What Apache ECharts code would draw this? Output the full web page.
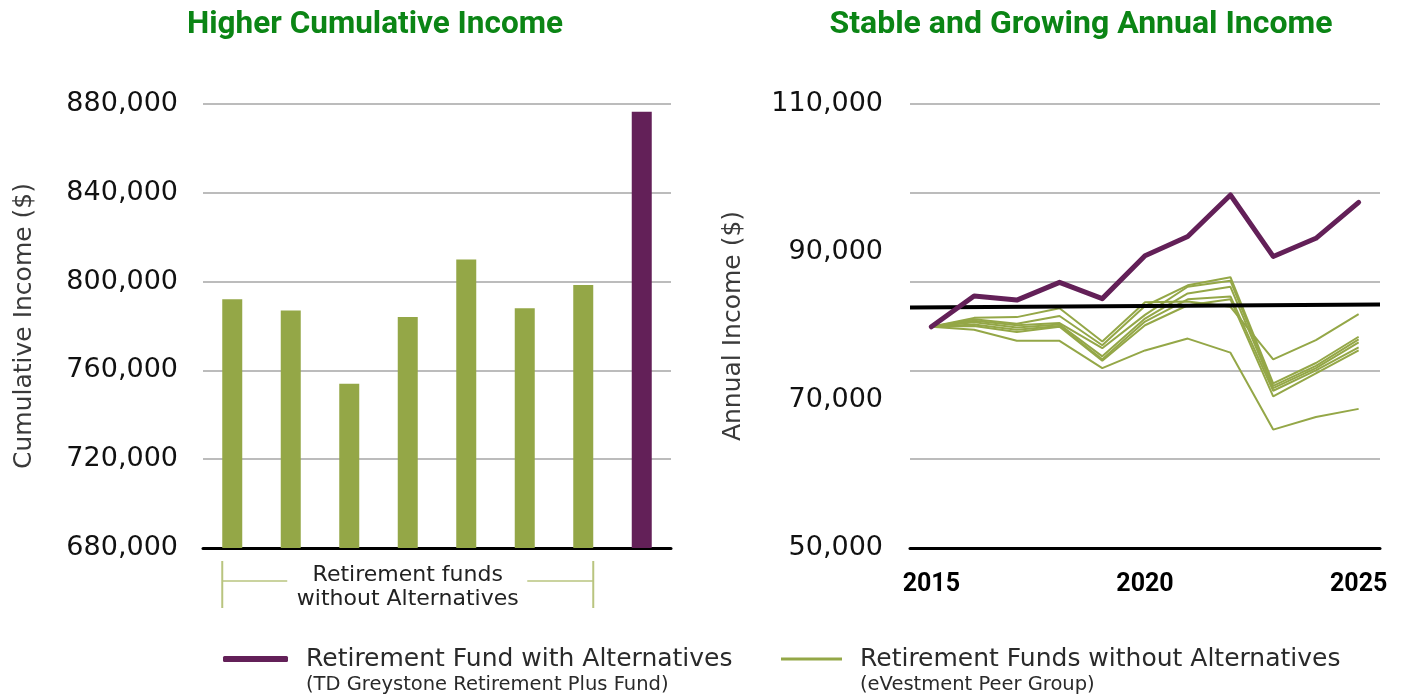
<!DOCTYPE html>
<html><head><meta charset="utf-8">
<script src="https://cdn.jsdelivr.net/npm/echarts@6/dist/echarts.min.js"></script>
<style>html,body{margin:0;padding:0;background:#fff}#c{width:1406px;height:698px}</style>
</head><body><div id="c"></div>
<script>
// ---------- data ----------
const barCategories = ['Peer 1','Peer 2','Peer 3','Peer 4','Peer 5','Peer 6','Peer 7','TD Greystone Retirement Plus Fund'];
const cumulativeIncome = [792000, 787000, 754000, 784000, 810000, 788000, 798500, 876500];
const leftYTicks = [680000, 720000, 760000, 800000, 840000, 880000];

const years = ['2015','2016','2017','2018','2019','2020','2021','2022','2023','2024','2025'];
const xTickYears = ['2015','2020','2025'];
const rightYTicks = [50000, 70000, 90000, 110000];

const fundIncome = [79900, 84050, 83500, 85900, 83700, 89500, 92100, 97700, 89400, 91850, 96700];
const peer1 = [79900, 81100, 81200, 82400, 77900, 83200, 83300, 82600, 75500, 78100, 81600];
const peer2 = [79900, 80900, 80300, 81350, 77400, 82700, 85500, 86600, 72250, 75000, 78550];
const peer3 = [79900, 80700, 80100, 80400, 77000, 81500, 85300, 86100, 71900, 74600, 78200];
const peer4 = [79900, 80500, 79800, 80200, 75900, 81000, 84400, 85300, 71600, 74300, 77800];
const peer5 = [79900, 80200, 79500, 80000, 75500, 80600, 83600, 84000, 71250, 74000, 77100];
const peer6 = [79900, 80000, 79200, 79900, 75300, 80100, 82800, 83600, 70500, 73600, 76700];
const peer7 = [79900, 79500, 78000, 78000, 74300, 76700, 78300, 76400, 66000, 67700, 68800];
const peerSeries = [peer1, peer2, peer3, peer4, peer5, peer6, peer7];

const refLineX = [2014.5, 2025.5];
const refLineY = [82500, 82900];

const legendNames = ['Retirement Fund with Alternatives', 'Retirement Funds without Alternatives'];
const legendSubs = ['(TD Greystone Retirement Plus Fund)', '(eVestment Peer Group)'];

// ---------- style ----------
const PURPLE = '#632058';
const GREEN = '#94a747';
const TITLE_GREEN = '#0b8515';
const GRID_GRAY = '#a6a6a6';
const FONT = 'Roboto, "Noto Sans", sans-serif';
const NFONT = '"DejaVu Sans", sans-serif';

const chart = echarts.init(document.getElementById('c'), null, {renderer: 'canvas'});
const fmt = v => Number(v).toLocaleString('en-US');

const legendRich = {
  e: {fontSize: 10, lineHeight: 24, color: 'rgba(0,0,0,0)', fontFamily: NFONT},
  a: {fontSize: 25, lineHeight: 28, fontWeight: 'normal', color: '#2a2a2a', fontFamily: NFONT, padding: [0,0,0,13]},
  b: {fontSize: 19.5, lineHeight: 24, fontWeight: 'normal', color: '#2a2a2a', fontFamily: NFONT, padding: [0,0,0,13]}
};
const legendFmt = name => '{e|x}\n{a|' + name + '}\n{b|' + legendSubs[legendNames.indexOf(name)] + '}';

const option = {
  animation: false,
  backgroundColor: '#fff',
  textStyle: {fontFamily: FONT},
  title: [
    {text: 'Higher Cumulative Income', left: 370, top: 4, textAlign: 'center',
     textStyle: {color: TITLE_GREEN, fontSize: 31.5, fontWeight: 'bold', fontFamily: FONT}},
    {text: 'Stable and Growing Annual Income', left: 1076, top: 4, textAlign: 'center',
     textStyle: {color: TITLE_GREEN, fontSize: 32, fontWeight: 'bold', fontFamily: FONT}}
  ],
  legend: [
    {data: [{name: legendNames[0], icon: 'roundRect'}], left: 223, top: 628, padding: 0,
     itemWidth: 65, itemHeight: 6, formatter: legendFmt, textStyle: {rich: legendRich}, selectedMode: false},
    {data: [{name: legendNames[1], icon: 'rect'}], left: 781, top: 628, padding: 0,
     itemWidth: 61, itemHeight: 3, formatter: legendFmt, textStyle: {rich: legendRich}, selectedMode: false}
  ],
  grid: [
    {left: 203, right: 735, top: 104, bottom: 150},
    {left: 910, right: 26, top: 104, bottom: 150}
  ],
  xAxis: [
    {gridIndex: 0, type: 'category', data: barCategories, boundaryGap: true,
     axisLine: {lineStyle: {color: '#000', width: 3}}, axisTick: {show: false}, axisLabel: {show: false}},
    {gridIndex: 1, type: 'category', data: years, boundaryGap: true,
     axisLine: {lineStyle: {color: '#000', width: 3}}, axisTick: {show: false},
     axisLabel: {interval: (i, v) => xTickYears.includes(v), color: '#000', fontSize: 25, fontWeight: 'bold',
                 margin: 24, fontFamily: FONT}},
    {gridIndex: 1, type: 'value', min: refLineX[0], max: refLineX[refLineX.length-1], show: false}
  ],
  yAxis: [
    {gridIndex: 0, type: 'value', min: leftYTicks[0], max: leftYTicks[leftYTicks.length-1],
     interval: leftYTicks[1]-leftYTicks[0],
     name: 'Cumulative Income ($)', nameLocation: 'middle', nameGap: 166,
     nameTextStyle: {fontSize: 25, fontWeight: 'normal', color: '#3a3a3a', fontFamily: NFONT},
     axisLine: {show: false}, axisTick: {show: false},
     axisLabel: {formatter: fmt, color: '#111', fontSize: 27, margin: 25, fontFamily: NFONT},
     splitLine: {lineStyle: {color: GRID_GRAY, width: 1.5}}},
    {gridIndex: 1, type: 'value', min: rightYTicks[0], max: rightYTicks[rightYTicks.length-1], interval: 10000,
     name: 'Annual Income ($)', nameLocation: 'middle', nameGap: 164,
     nameTextStyle: {fontSize: 25, fontWeight: 'normal', color: '#3a3a3a', fontFamily: NFONT},
     axisLine: {show: false}, axisTick: {show: false}, splitLine: {show: false},
     axisLabel: {formatter: v => rightYTicks.includes(v) ? fmt(v) : '', color: '#111', fontSize: 27,
                 margin: 27, fontFamily: NFONT}},
    {gridIndex: 1, type: 'value', min: 0, max: 5, interval: 1, axisLine: {show: false}, axisTick: {show: false},
     axisLabel: {show: false}, splitLine: {lineStyle: {color: GRID_GRAY, width: 1.5}}}
  ],
  series: [
    {type: 'bar', xAxisIndex: 0, yAxisIndex: 0, data: cumulativeIncome, barWidth: 20,
     itemStyle: {color: p => p.dataIndex === cumulativeIncome.length - 1 ? PURPLE : GREEN}, silent: true},
    ...peerSeries.map(d => ({
      type: 'line', name: legendNames[1], xAxisIndex: 1, yAxisIndex: 1, data: d,
      showSymbol: false, symbol: 'none', lineStyle: {color: GREEN, width: 2}, itemStyle: {color: GREEN}, z: 2
    })),
    {type: 'line', name: 'Reference', xAxisIndex: 2, yAxisIndex: 1,
     data: refLineX.map((x, i) => [x, refLineY[i]]), symbol: 'none',
     lineStyle: {color: '#000', width: 4}, z: 3},
    {type: 'line', name: legendNames[0], xAxisIndex: 1, yAxisIndex: 1, data: fundIncome,
     symbol: 'none', lineStyle: {color: PURPLE, width: 5, cap: 'round', join: 'round'}, itemStyle: {color: PURPLE}, z: 4}
  ]
};
chart.setOption(option);

// bracket under the peer bars
const halfBar = 10;
const xa = chart.convertToPixel({xAxisIndex: 0}, barCategories[0]) - halfBar;
const xb = chart.convertToPixel({xAxisIndex: 0}, barCategories[6]) + halfBar;
const xm = chart.convertToPixel({xAxisIndex: 0}, barCategories[3]);
const bc = '#b9c47f';
chart.setOption({graphic: [
  {type: 'line', shape: {x1: xa, y1: 561, x2: xa, y2: 608}, style: {stroke: bc, lineWidth: 2}},
  {type: 'line', shape: {x1: xb, y1: 561, x2: xb, y2: 608}, style: {stroke: bc, lineWidth: 2}},
  {type: 'line', shape: {x1: xa, y1: 581, x2: xa + 65, y2: 581}, style: {stroke: bc, lineWidth: 1.5}},
  {type: 'line', shape: {x1: xb - 66, y1: 581, x2: xb, y2: 581}, style: {stroke: bc, lineWidth: 1.5}},
  {type: 'text', x: xm, y: 587, style: {text: 'Retirement funds\nwithout Alternatives', align: 'center',
    verticalAlign: 'middle', fontSize: 22, lineHeight: 24, fill: '#222', fontFamily: NFONT}}
]});
</script>
</body></html>
